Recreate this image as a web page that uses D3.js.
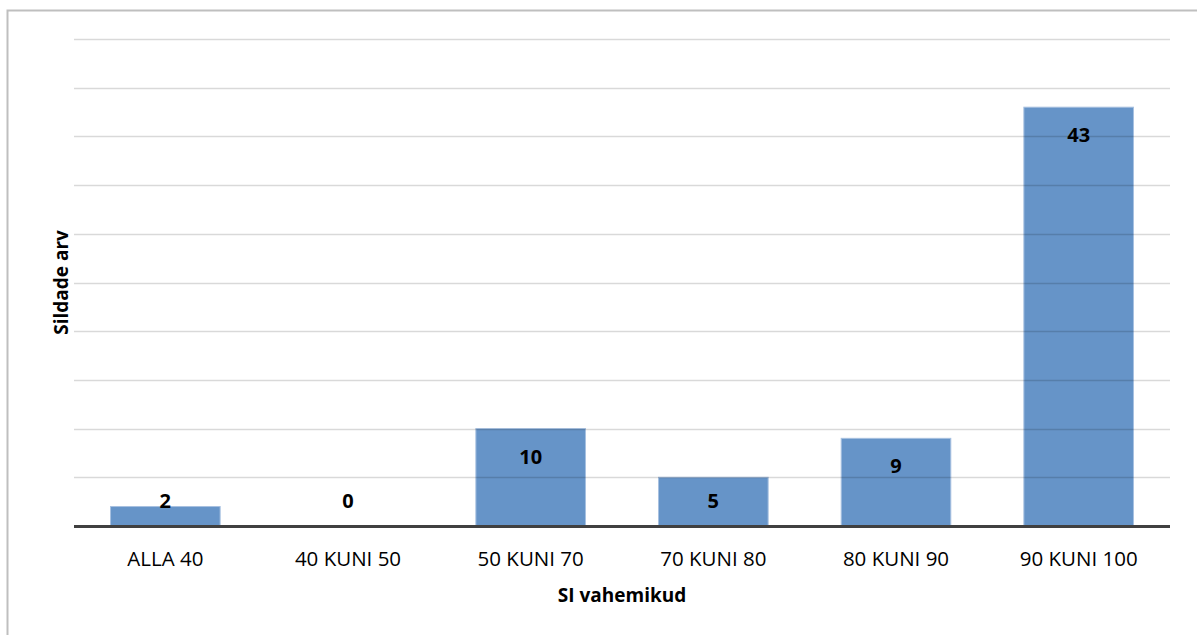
<!DOCTYPE html>
<html>
<head>
<meta charset="utf-8">
<script src="https://cdn.jsdelivr.net/npm/d3@7"></script>
<style>
  html, body { margin: 0; padding: 0; background: #fff; }
  svg { display: block; }
</style>
</head>
<body>
<svg id="chart" width="1197" height="635"></svg>
<script>
// Bridge counts per SI range
const categories = ["ALLA 40", "40 KUNI 50", "50 KUNI 70", "70 KUNI 80", "80 KUNI 90", "90 KUNI 100"];
const counts = [2, 0, 10, 5, 9, 43];
const gridTicks = [0, 5, 10, 15, 20, 25, 30, 35, 40, 45, 50];
const xTitle = "SI vahemikud";
const yTitle = "Sildade arv";

const svg = d3.select("#chart");
const W = 1197, H = 635;
const plot = { left: 74, right: 1170, top: 39, bottom: 526 };
const font = "'Open Sans', 'Noto Sans', sans-serif";

// Chart frame (top and left edges fall inside the view)
svg.append("rect")
  .attr("x", 7.5).attr("y", 10.5)
  .attr("width", W + 20).attr("height", H + 20)
  .attr("fill", "#fff")
  .attr("stroke", "#bfbfbf")
  .attr("stroke-width", 2);

const x = d3.scaleBand()
  .domain(categories)
  .range([plot.left, plot.right])
  .paddingInner(0.4)
  .paddingOuter(0.2);

const y = d3.scaleLinear()
  .domain([0, 50])
  .range([plot.bottom, plot.top]);

// Bars
svg.append("g")
  .selectAll("rect")
  .data(counts)
  .join("rect")
  .attr("x", (d, i) => x(categories[i]))
  .attr("y", d => y(d))
  .attr("width", x.bandwidth())
  .attr("height", d => y(0) - y(d))
  .attr("fill", "#6694c8")
  .attr("stroke", "#a7c0e0")
  .attr("stroke-width", d => d > 0 ? 1 : 0);

// Horizontal gridlines, translucent so they show faintly across the bars
svg.append("g")
  .selectAll("line")
  .data(gridTicks.filter(t => t > 0))
  .join("line")
  .attr("x1", plot.left).attr("x2", plot.right)
  .attr("y1", d => Math.round(y(d)) + 0.5)
  .attr("y2", d => Math.round(y(d)) + 0.5)
  .attr("stroke", "#000")
  .attr("stroke-opacity", 0.15)
  .attr("stroke-width", 1.5);

// Baseline
svg.append("line")
  .attr("x1", plot.left).attr("x2", plot.right)
  .attr("y1", y(0) + 0.5).attr("y2", y(0) + 0.5)
  .attr("stroke", "#404040")
  .attr("stroke-width", 3);

// Value labels, inside the bar top where there is room
svg.append("g")
  .selectAll("text")
  .data(counts)
  .join("text")
  .attr("x", (d, i) => x(categories[i]) + x.bandwidth() / 2)
  .attr("y", d => Math.min(y(d) + 35, y(0) - 18))
  .attr("text-anchor", "middle")
  .attr("font-family", font)
  .attr("font-weight", "bold")
  .attr("font-size", 20)
  .attr("fill", "#000")
  .text(d => d);

// Category labels
svg.append("g")
  .selectAll("text")
  .data(categories)
  .join("text")
  .attr("x", d => x(d) + x.bandwidth() / 2)
  .attr("y", 566)
  .attr("text-anchor", "middle")
  .attr("font-family", font)
  .attr("font-size", 20.5)
  .attr("fill", "#000")
  .text(d => d);

// Axis titles
svg.append("text")
  .attr("x", (plot.left + plot.right) / 2)
  .attr("y", 602)
  .attr("text-anchor", "middle")
  .attr("font-family", font)
  .attr("font-weight", "bold")
  .attr("font-size", 19)
  .text(xTitle);

svg.append("text")
  .attr("transform", `translate(68, 282.5) rotate(-90)`)
  .attr("text-anchor", "middle")
  .attr("font-family", font)
  .attr("font-weight", "bold")
  .attr("font-size", 19)
  .text(yTitle);
</script>
</body>
</html>
